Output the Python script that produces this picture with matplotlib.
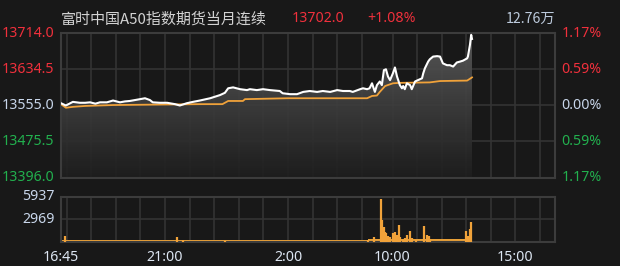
import numpy as np
import matplotlib.pyplot as plt
from matplotlib.colors import LinearSegmentedColormap

plt.rcParams['font.family'] = ['Noto Sans CJK SC', 'DejaVu Sans']

# 数据
titulo = "富时中国A50指数期货当月连续"
ultimo = "13702.0"
variacao = "+1.08%"
volume_total = "12.76万"

preco_ticks = [13396.0, 13475.5, 13555.0, 13634.5, 13714.0]
pct_ticks = ["1.17%", "0.59%", "0.00%", "0.59%", "1.17%"]
vol_ticks = [2969, 5937]
hora_labels = ["16:45", "21:00", "2:00", "10:00", "15:00"]

preco_t = ["16:46", "16:58", "17:15", "17:32", "17:45", "17:57", "18:10", "18:21", "18:38", "18:53",
           "19:10", "19:22", "19:34", "19:59", "20:11", "20:23", "20:30", "20:47", "21:05", "21:24",
           "21:36", "21:53", "22:08", "22:25", "22:50", "23:14", "23:26", "23:34", "23:46", "0:03",
           "0:20", "0:27", "0:44", "0:59", "1:16", "1:40", "1:47", "2:05", "2:22", "2:37",
           "2:53", "3:11", "3:25", "3:43", "4:00", "4:14", "4:31", "4:38", "4:56", "5:03",
           "5:13", "9:04", "9:10", "9:17", "9:22", "9:29", "9:34", "9:39", "9:44", "9:49",
           "9:54", "10:01", "10:06", "10:11", "10:18", "10:23", "10:26", "10:30", "10:35", "10:43",
           "10:47", "10:55", "11:02", "11:12", "11:15", "11:19", "11:27", "11:31", "11:39", "11:49",
           "11:56", "12:03", "12:13", "12:20", "12:28", "12:37", "12:45", "12:52", "13:02", "13:04",
           "13:09", "13:12", "13:14"]
preco = [13560, 13555, 13563, 13561, 13561, 13562, 13559, 13562, 13562, 13566,
         13562, 13564, 13565, 13569, 13571, 13567, 13562, 13561, 13561, 13558,
         13555, 13560, 13563, 13566, 13571, 13578, 13583, 13593, 13595, 13591,
         13589, 13591, 13589, 13591, 13589, 13587, 13582, 13580, 13580, 13585,
         13587, 13585, 13587, 13585, 13589, 13587, 13587, 13585, 13591, 13593,
         13591, 13593, 13604, 13585, 13600, 13608, 13600, 13633, 13635, 13619,
         13611, 13626, 13639, 13619, 13600, 13593, 13598, 13591, 13604, 13600,
         13591, 13608, 13611, 13615, 13626, 13637, 13652, 13657, 13663, 13664,
         13663, 13648, 13644, 13644, 13641, 13650, 13652, 13654, 13659, 13663,
         13689, 13711, 13702]

media_t = ["16:46", "16:58", "17:15", "17:45", "18:53", "22:25", "23:20", "23:26", "23:34", "0:10",
           "0:15", "2:00", "5:13", "9:10", "9:22", "9:29", "9:42", "10:01", "10:18", "11:31",
           "11:56", "13:02", "13:09", "13:14"]
media = [13558, 13550, 13552, 13554, 13556, 13558, 13558, 13561, 13565, 13565,
         13569, 13571, 13571, 13576, 13577, 13585, 13598, 13604, 13605, 13606,
         13609, 13610, 13614, 13617]

vol_t = ["16:57", "21:29", "21:44", "23:26", "9:00", "9:15", "9:31", "9:35", "9:39", "9:41",
         "9:44", "9:49", "9:54", "10:01", "10:06", "10:11", "10:15", "10:18", "10:26", "10:30",
         "10:35", "10:43", "10:47", "10:57", "11:17", "11:24", "11:28", "11:31", "13:00", "13:04",
         "13:09", "13:12"]
vol = [800, 600, 200, 150, 250, 600, 5600, 2860, 1950, 1340,
       1170, 780, 700, 1130, 1260, 850, 2210, 650, 300, 560,
       900, 1430, 500, 300, 2080, 910, 780, 400, 1430, 800,
       1650, 2560]
vol_base_t = ["16:45", "5:15", "9:00", "13:14"]
vol_base = [260, 260, 340, 340]


def horas(t):
    # horas de negociação desde 16:45 (pausa 5:15 - 9:00 removida)
    hh, mm = map(int, t.split(':'))
    m = hh * 60 + mm
    if m >= 1005:
        return (m - 1005) / 60
    if m <= 315:
        return (m + 1440 - 1005) / 60
    return 12.5 + (m - 540) / 60


BG = '#181818'
GRID = '#333333'
RED = '#f0303c'
GREEN = '#22b04e'
NEUTRO = '#c8d6ea'
NUM_FONT = ['Noto Sans', 'DejaVu Sans']

xp = np.array([horas(t) for t in preco_t])
xm = np.array([horas(t) for t in media_t])
xv = np.array([horas(t) for t in vol_t])
xb = np.array([horas(t) for t in vol_base_t])
x_max = 20.11
grade_x = [h + 0.25 for h in range(13)] + [12.5 + h for h in range(1, 8)]

fig = plt.figure(figsize=(6.2, 2.66), dpi=100, facecolor=BG)
ax = fig.add_axes([0.0977, 0.3327, 0.7975, 0.5414], facecolor=BG)
axv = fig.add_axes([0.0977, 0.0902, 0.7975, 0.171], facecolor=BG)

# grafico de preço
for g in grade_x:
    ax.axvline(g, color=GRID, lw=1.2, zorder=1)
for p in preco_ticks[1:-1]:
    ax.axhline(p, color=GRID, lw=1.2, zorder=1)

area = ax.fill_between(xp, preco, preco_ticks[0], color='none', lw=0)
cmap = LinearSegmentedColormap.from_list('g', ['#1e1e1e', '#5c5c5c'])
grad = ax.imshow(np.linspace(0, 1, 200).reshape(-1, 1), cmap=cmap, aspect='auto', origin='lower',
                 extent=[0, xp[-1], preco_ticks[0], preco_ticks[-1]], zorder=2, alpha=0.92)
grad.set_clip_path(area.get_paths()[0], transform=ax.transData)
ax.set_xlim(0, x_max)
ax.set_ylim(preco_ticks[0], preco_ticks[-1])

ax.plot(xm, media, color='#f0a23a', lw=1.3, zorder=3)
ax.plot(xp, preco, color='white', lw=1.5, zorder=4)

ax.set_xticks([])
ax.set_yticks([])
for s in ax.spines.values():
    s.set_color('#3c3c3c')
    s.set_linewidth(1.5)

cores = [GREEN, GREEN, NEUTRO, RED, RED]
for p, pc, c in zip(preco_ticks, pct_ticks[::-1], cores):
    ax.text(-0.012, p, f"{p:.1f}", transform=ax.get_yaxis_transform(), ha='right', va='center',
            color=c, fontsize=10.2, family=NUM_FONT)
    ax.text(1.013, p, pc, transform=ax.get_yaxis_transform(), ha='left', va='center',
            color=c, fontsize=10.2, family=NUM_FONT)

# volume
axv.set_xlim(0, x_max)
axv.set_ylim(0, vol_ticks[-1])
for g in grade_x:
    axv.axvline(g, color=GRID, lw=1.2, zorder=1)
axv.axhline(vol_ticks[0], color=GRID, lw=1.2, zorder=1)
axv.fill_between(xb[:2], vol_base[:2], 0, color='#e8a038', lw=0, zorder=2)
axv.fill_between(xb[2:], vol_base[2:], 0, color='#e8a038', lw=0, zorder=2)
axv.vlines(xv, 0, vol, color='#f0a23a', lw=1.6, zorder=3)
axv.set_xticks([])
axv.set_yticks([])
for s in axv.spines.values():
    s.set_color('#3c3c3c')
    s.set_linewidth(1.5)
for v in vol_ticks:
    axv.text(-0.012, v, str(v), transform=axv.get_yaxis_transform(), ha='right', va='center',
             color=NEUTRO, fontsize=10.2, family=NUM_FONT)

for lab in hora_labels:
    axv.text(horas(lab), -0.33, lab, transform=axv.get_xaxis_transform(), ha='center', va='center',
             color='#dde6f2', fontsize=10.2, family=NUM_FONT)

# cabeçalho
fig.text(61 / 620, 1 - 19 / 266, titulo, color='#d2d2d2', fontsize=10.8, ha='left', va='center')
fig.text(292 / 620, 1 - 19 / 266, ultimo, color=RED, fontsize=10.2, ha='left', va='center', family=NUM_FONT)
fig.text(367 / 620, 1 - 19 / 266, variacao, color=RED, fontsize=10.2, ha='left', va='center', family=NUM_FONT)
fig.text(555 / 620, 1 - 19 / 266, volume_total, color='#bccadc', fontsize=10.2, ha='right', va='center')

plt.savefig("out.png", dpi=100, facecolor=BG)
plt.close()
